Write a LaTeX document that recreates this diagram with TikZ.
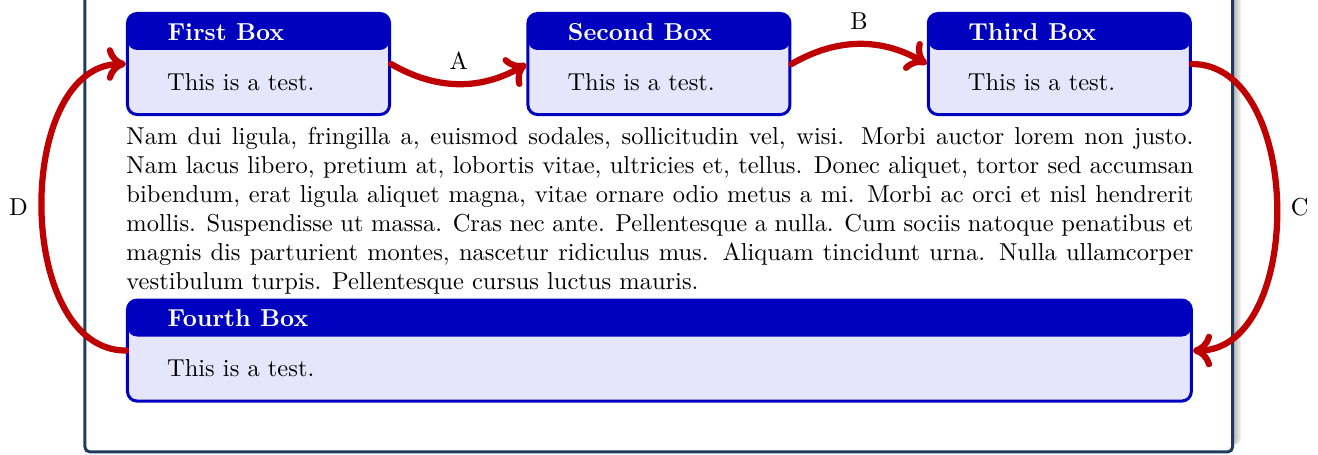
\documentclass[tikz,border=0pt]{standalone}
\usepackage{xcolor}
\usepackage{tikz}
\usetikzlibrary{positioning,arrows.meta}
\definecolor{cardDraw}{HTML}{0000BF}
\definecolor{cardFill}{HTML}{E5E5FB}
\definecolor{linkCol}{HTML}{BF0000}
\definecolor{frameDraw}{HTML}{1F3B5E}

\begin{document}
\begin{tikzpicture}[
  font=\fontsize{10.2pt}{12.1pt}\selectfont,
  card/.style={draw=cardDraw, line width=1.25pt, rounded corners=4pt, fill=cardFill,
               minimum width=109.2pt, text width=76.2pt, align=left,
               inner xsep=16.5pt, inner ysep=0pt, text height=31.9pt, text depth=10.2pt,
               path picture={\fill[cardDraw] (path picture bounding box.north west)
                 rectangle ([yshift=-15.2pt]path picture bounding box.north east);}},
  cardtitle/.style={font=\fontsize{10.2pt}{12.1pt}\selectfont\bfseries, text=white,
                    anchor=base west, inner sep=0pt},
  link/.style={-{Computer Modern Rightarrow[length=8pt,width=14pt]}, line width=2.6pt,
               line cap=round, draw=linkCol},
  para/.style={inner sep=0pt, text width=444.6pt, align=justify, anchor=north west},
]
\useasboundingbox (0,0) rectangle (549.2pt,-189.2pt);

% ---- Rahmen mit Schatten ----
\foreach \s in {0.6,1.2,1.8,2.4,3.0}
  \fill[black, opacity=0.06, rounded corners=3pt] (40pt,10pt) rectangle ({514.2pt+\s pt},-185.5pt);
\draw[draw=frameDraw, fill=white, line width=1.25pt, rounded corners=2pt]
  (35.4pt,10pt) rectangle (513.6pt,-188.3pt);

% ---- Boxen oben ----
\node[card, anchor=north west]  (first) at (52.5pt,-5pt) {This is a test.};
\node[card, right=56.4pt of first]  (second)            {This is a test.};
\node[card, right=56.4pt of second] (third)             {This is a test.};

\node[cardtitle] (firstTitle)  at ([xshift=17.1pt,yshift=-11.7pt]first.north west)  {First Box};
\node[cardtitle] (secondTitle) at ([xshift=17.1pt,yshift=-11.7pt]second.north west) {Second Box};
\node[cardtitle] (thirdTitle)  at ([xshift=17.1pt,yshift=-11.7pt]third.north west)  {Third Box};

% ---- Fliesstext ----
\node[para] (lorem) at ([yshift=-4.3pt]first.south west)
  {Nam dui ligula, fringilla a, euismod sodales, sollicitudin vel, wisi. Morbi auctor lorem non justo.
   Nam lacus libero, pretium at, lobortis vitae, ultricies et, tellus. Donec aliquet, tortor sed accumsan
   bibendum, erat ligula aliquet magna, vitae ornare odio metus a mi. Morbi ac orci et nisl hendrerit
   mollis. Suspendisse ut massa. Cras nec ante. Pellentesque a nulla. Cum sociis natoque penatibus et
   magnis dis parturient montes, nascetur ridiculus mus. Aliquam tincidunt urna. Nulla ullamcorper
   vestibulum turpis. Pellentesque cursus luctus mauris.};

% ---- Box unten ----
\node[card, anchor=north west, minimum width=443.3pt, text width=410.3pt] (fourth) at (52.5pt,-124.4pt)
  {This is a test.};
\node[cardtitle] (fourthTitle) at ([xshift=17.1pt,yshift=-11.7pt]fourth.north west) {Fourth Box};

% ---- Pfeile ----
\draw[link] (first.east)  to[bend right] node[above=1.3pt] (labA) {A} (second.west);
\draw[link] (second.east) to[bend left]  node[above=1.3pt] (labB) {B} (third.west);
\draw[link] (third.east)  to[out=0,in=0]     node[right=1.3pt] (labC) {C} (fourth.east);
\draw[link] (fourth.west) to[out=180,in=180] node[left=1.3pt]  (labD) {D} (first.west);

\end{tikzpicture}
\end{document}
